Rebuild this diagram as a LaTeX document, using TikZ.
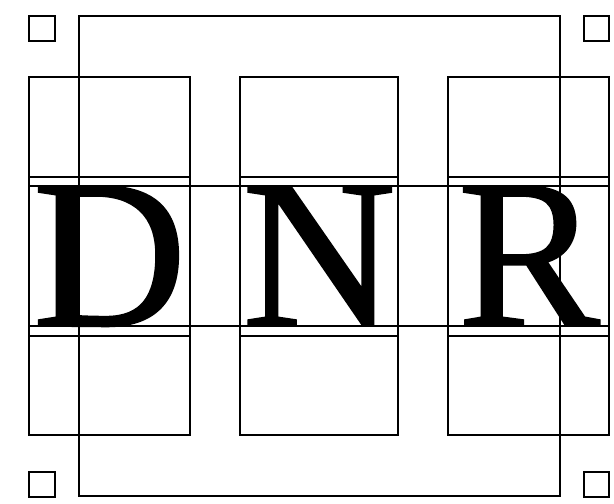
\documentclass[tikz,border=0pt]{standalone}
\usepackage{fontspec}
\setmainfont{Liberation Serif}
\newfontfamily\capfont[FakeBold=1]{Liberation Serif}
\usepackage{tikz}
\usetikzlibrary{positioning}

\begin{document}
\begin{tikzpicture}[
    x=1pt, y=-1pt,
    glyph/.style={inner sep=0pt, anchor=base, font=\capfont\fontsize{213}{213}\selectfont},
    frame/.style={draw=black, line width=2pt},
    tick/.style={draw=black, line width=2pt},
]
\useasboundingbox (0,0) rectangle (614,504);

% outer frame and corner marks
\draw[frame] (79,16) rectangle (560,496);
\foreach \cx/\cy in {29.3/16, 584/16, 29.3/471.7, 584/471.7}
    \draw[tick] (\cx,\cy) rectangle ++(25.3,25.3);

% one column per letter
\foreach \xl/\xr/\ch in {29.3/190/D, 240/398.3/N, 448.3/609.3/R} {
    \draw[frame] (\xl,77.3) rectangle (\xr,435.3);
    \draw[frame] (\xl,176.7) -- (\xr,176.7);
    \draw[frame] (\xl,336.3) -- (\xr,336.3);
    \node[glyph] (letter\ch) at ({(\xl+\xr)/2},325.8) {\ch};
}

% cap height and baseline
\draw[frame] (29.3,186) -- (609.3,186);
\draw[frame] (29.3,325.8) -- (609.3,325.8);

\end{tikzpicture}
\end{document}
